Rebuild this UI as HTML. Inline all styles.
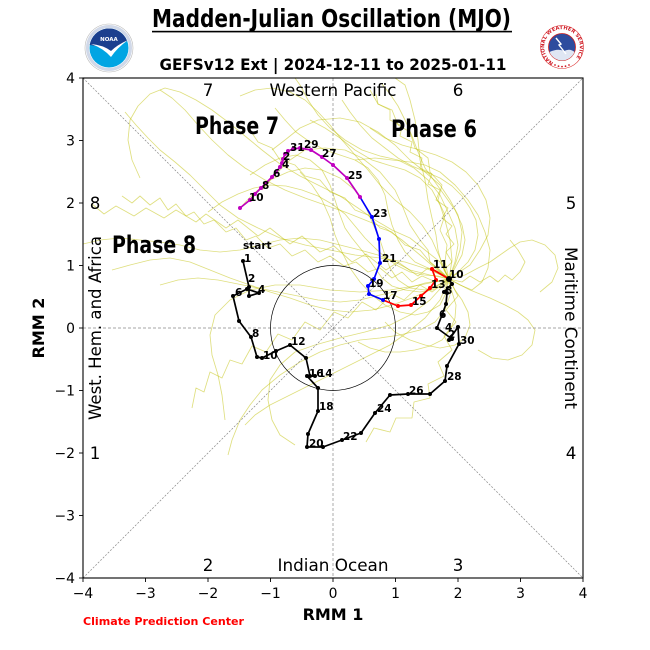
<!DOCTYPE html>
<html><head><meta charset="utf-8"><style>
html,body{margin:0;padding:0;background:#fff;}
svg{display:block;}
text{font-family:"DejaVu Sans","Liberation Sans",sans-serif;}
</style></head><body>
<svg width="650" height="650" viewBox="0 0 650 650" xmlns="http://www.w3.org/2000/svg">
<rect width="650" height="650" fill="#fff"/>

<!-- Title -->
<text x="152" y="27" font-family="Liberation Sans, sans-serif" font-weight="bold" font-size="25" textLength="359" lengthAdjust="spacingAndGlyphs" fill="#000">Madden-Julian Oscillation (MJO)</text>
<rect x="152" y="30.8" width="360" height="1.6" fill="#000"/>
<text x="159.5" y="70" font-weight="bold" font-size="16" textLength="347" lengthAdjust="spacingAndGlyphs" fill="#000">GEFSv12 Ext | 2024-12-11 to 2025-01-11</text>

<!-- NOAA logo -->
<g transform="translate(109,48)">
<circle r="24" fill="#fff" stroke="#b8b8b8" stroke-width="0.6"/>
<circle r="21.5" fill="none" stroke="#d0d8e8" stroke-width="3"/>
<circle r="19.5" fill="#00a5e3"/>
<path d="M-19.3,-3 A19.5,19.5 0 0 1 18.2,-7 Q8,-2 2,4 Q-8,-2 -19.3,-3 Z" fill="#1b3f8e"/>
<path d="M-18,-4 Q-6,0 2,9 Q8,0 19,-8 Q8,-3 2,3 Q-6,-3 -18,-4 Z" fill="#fff"/>
<text x="0" y="-7" text-anchor="middle" font-size="5.5" font-weight="bold" fill="#fff">NOAA</text>
</g>

<!-- NWS logo -->
<g transform="translate(562,47)">
<circle r="21.5" fill="#fff" stroke="#d33" stroke-width="0.6"/>
<defs><path id="nwsarc" d="M-8.5,15.6 A17.8,17.8 0 1 1 8.5,15.6"/></defs>
<text font-size="5" font-weight="bold" fill="#d0202a"><textPath href="#nwsarc" textLength="86" lengthAdjust="spacingAndGlyphs">NATIONAL WEATHER SERVICE</textPath></text>
<circle r="13.5" fill="#2d4c9e" stroke="#c22" stroke-width="0.8"/>
<path d="M-12.5,5 Q-4,1 2,4 Q8,1 12.5,5 A13.5,13.5 0 0 1 -12.5,5 Z" fill="#dfe6f3"/>
<polyline points="-6,-9 -1,-3 -3,-2 4,7" fill="none" stroke="#fff" stroke-width="1.4"/>
<g fill="#d0202a"><circle cx="-7" cy="18" r="0.9"/><circle cx="-3.5" cy="19.2" r="0.9"/><circle cx="0" cy="19.6" r="0.9"/><circle cx="3.5" cy="19.2" r="0.9"/><circle cx="7" cy="18" r="0.9"/></g>
</g>

<!-- Ensemble members -->
<g fill="none" stroke="#bfbf00" stroke-opacity="0.5" stroke-width="0.85" stroke-linejoin="round">
<polyline points="449,279 440,270 430,262 428,250 420,240 410,225 402,205 395,190 380,172 362,158 345,150 325,148 305,150 290,160 275,175 262,190"/>
<polyline points="449,279 455,265 460,250 462,232 458,215 450,200 440,185 425,172 410,160 395,145 378,132 360,122 340,118 318,120 300,128 285,140 272,150"/>
<polyline points="449,279 438,285 425,290 410,288 398,280 390,268 385,255 380,240 372,222 365,205 355,190 340,178 322,170 305,168 288,172 270,180 252,195 240,208"/>
<polyline points="449,279 460,285 472,290 482,282 488,268 490,250 485,232 478,215 468,200 455,185 440,172 425,165 410,162 392,160 375,158 355,160"/>
<polyline points="449,279 445,295 440,305 428,312 415,315 400,312 385,305 372,295 360,282 350,268 342,252 335,235 330,218 322,200 312,185 300,172"/>
<polyline points="449,279 442,265 438,250 436,235 432,218 428,200 425,180 420,160 418,140 415,120 410,100 405,85 395,78"/>
<polyline points="449,279 430,275 410,270 395,262 378,255 360,250 340,245 320,240 300,238 280,240 260,245 240,250 220,252 200,250 180,245 160,242 140,240 120,238 100,240 83,244"/>
<polyline points="449,279 450,295 445,310 435,322 420,330 400,335 380,338 360,340 340,345 320,352 300,362 280,375 262,390 250,405 240,420 232,440 228,455"/>
<polyline points="449,279 465,275 478,268 490,262 500,255 510,248 520,242 532,240 545,245 555,255 558,268 552,282 540,292"/>
<polyline points="449,279 440,258 432,240 422,225 410,212 395,200 380,185 368,170 355,155 342,140 330,125 318,112 305,100 290,92 272,88 255,90 240,96"/>
<polyline points="449,279 455,290 462,300 468,312 470,325 465,338 455,345 440,348 425,345 410,340 395,332 385,322"/>
<polyline points="449,279 425,283 402,290 380,295 360,300 340,302 318,300 298,296 278,292 258,288 238,284 218,280 198,278 178,280 160,285"/>
<polyline points="449,279 435,268 420,255 402,240 385,228 365,220 345,212 325,205 305,198 285,190 265,180 245,168 228,155 212,140 198,125 185,110 172,98 160,90"/>
<polyline points="449,279 452,260 450,240 445,220 440,205 432,190 420,178 405,170 388,165 372,160 355,150 340,138 325,128 310,120"/>
<polyline points="449,279 430,290 412,298 392,305 372,310 350,312 330,310 310,305 290,298 270,292 250,285 230,278 210,270 190,262 170,258 150,260 130,265 112,270"/>
<polyline points="449,279 470,265 480,250 488,235 490,218 486,200 478,185 466,172 452,162 436,155 420,150 402,145 385,138 370,128"/>
<polyline points="449,279 440,272 428,268 415,262 405,252 398,240 392,225 388,210 385,195 378,180 368,168 355,160 340,155 325,150 310,142 296,132 285,120 275,108"/>
<polyline points="449,279 445,285 432,290 420,292 405,290 392,286 382,278 375,268 368,258 360,248 352,238 345,228 340,215 335,200 330,185 322,170 310,160 296,155 280,158 265,165 250,175"/>
<polyline points="449,279 440,300 425,318 408,332 390,345 370,355 350,365 330,375 310,385 290,395 270,405 255,415 245,425"/>
<polyline points="449,279 458,272 468,262 475,250 478,235 476,220 470,208 462,196 452,186 440,178 426,172 412,166 398,158 385,148 372,138 360,125 350,112 342,100"/>
<polyline points="449,279 470,290 490,298 505,305 518,312 528,320 535,330 532,345 522,355 508,360 492,358 478,350"/>
<polyline points="449,279 430,270 405,262 380,258 355,255 330,250 305,245 280,238 258,228 238,218 220,205 205,190 190,175 175,162 160,150 148,138 136,125 125,112"/>
<polyline points="449,279 455,268 462,255 465,240 462,225 455,210 445,196 435,182 425,168 418,152 412,136 405,120 398,106 390,94 382,84"/>
<polyline points="449,279 438,276 424,275 410,272 398,266 386,258 375,248 365,238 355,226 345,214 332,204 318,196 302,190 286,186 270,185 254,188 238,194 222,202 208,212"/>
<polyline points="449,279 452,292 456,305 455,318 450,330 442,340 430,346 415,350 400,352 385,352 370,348 358,342"/>
<polyline points="449,279 445,262 447,245 440,230 445,215 438,200 442,185 430,172 428,158 415,148 410,132 398,125 392,110 378,104 370,90"/>
<polyline points="449,279 430,262 420,250 405,245 392,232 380,228 368,215 355,210 345,198 330,192 320,180 305,176 295,165 280,160 272,148 258,142 250,130"/>
<polyline points="449,279 462,282 470,276 480,282 490,276 498,282 505,275 512,280 520,272 525,262 518,250 510,240"/>
<polyline points="449,279 420,285 390,290 360,292 330,290 300,285 275,285 250,290 230,300 215,315 210,335 212,355 218,375 222,395 225,420"/>
<polyline points="449,279 430,300 410,315 390,325 365,332 340,338 315,345 295,352 280,365 270,380 268,400 272,420 280,435 295,445"/>
<polyline points="449,279 440,262 425,250 410,238 392,230 375,220 358,208 340,196 320,186 300,176 280,164 262,150 245,136 228,122 212,110 196,100 180,92 165,88 150,94 138,106 130,120 128,140 132,160 140,178"/>
<polyline points="449,279 455,262 458,245 455,228 448,212 440,195 428,180 414,168 398,160 380,156 362,150 345,140 330,128 318,115 308,100 300,85 295,78"/>
<polyline points="449,279 436,282 422,276 412,282 402,272 392,278 380,268 368,272 356,262 344,266 330,256 318,262 305,250 292,256 280,244 268,248 256,236 246,240 236,228 226,232 214,220 204,224 194,212 186,216 176,204 168,210 160,198 150,205 140,196 132,203 122,196"/>
<polyline points="449,279 444,270 452,262 446,252 454,244 446,234 452,226 442,218 448,208 436,200 440,190 428,184 432,174 420,168 422,158 410,152 412,142 400,136 402,126 390,120 390,110 378,104 376,94"/>
<polyline points="449,279 432,292 420,285 404,300 392,294 376,310 362,302 348,318 334,312 320,330 305,322 292,340 278,334 266,352 252,346 242,364 230,360 222,378 210,372 204,392 196,388 192,408"/>
<polyline points="449,279 428,268 418,276 398,262 386,270 366,254 352,262 334,246 320,252 302,236 290,244 270,228 258,236 238,220 226,228 206,214 196,222 176,210 164,218 146,208 134,216 116,206 104,214 92,204"/>
<polyline points="449,279 458,296 446,310 456,322 444,336 452,350 438,362 444,376 428,384 430,398 414,402 412,418 396,418 390,432 374,428 366,442"/>
</g>

<!-- reference lines -->
<g fill="none" stroke="#888" stroke-width="0.7">
<line x1="333" y1="78" x2="333" y2="578" stroke-dasharray="3,2"/>
<line x1="83" y1="328" x2="583" y2="328" stroke-dasharray="3,2"/>
<line x1="83" y1="78" x2="583" y2="578" stroke-dasharray="2,1.5"/>
<line x1="83" y1="578" x2="583" y2="78" stroke-dasharray="2,1.5"/>
</g>
<circle cx="333" cy="328" r="62.5" fill="none" stroke="#000" stroke-width="0.7"/>

<!-- observed & forecast mean paths -->
<g fill="none" stroke-width="1.7" stroke-linejoin="round">
<polyline stroke="#000" points="243,261 249,287 249,296 259,293 247,289 233,296 239,321 251,337 257,357 262,358 276,351 290,345 306,358 310,376 315,376 307,376 318,388 318,411 308,434 307,447 323,447 342,440 361,433 375,413 390,395 408,394 430,394 445,381 447,366 459,344 458,327 449,340 452,339 437,328 442,315 446,304 447,293 444,292 452,284 449,279"/>
<polyline stroke="#f00" points="449,279 432,269 436,280 430,288 421,296 411,305 398,306 383,300"/>
<polyline stroke="#00f" points="383,300 369,294 368,286 374,279 380,263 379,239 372,217 360,197"/>
<polyline stroke="#c000c0" points="360,197 347,178 333,165 322,157 311,150 300,148 293,149 288,151 285,154 283,159 282,163 280,167 276,172 272,177 266,183 261,188 255,194 250,200 240,208"/>
</g>
<g fill="#000">
<circle cx="243" cy="261" r="2"/><circle cx="249" cy="287" r="2"/><circle cx="249" cy="296" r="2"/><circle cx="259" cy="293" r="2"/><circle cx="247" cy="289" r="2"/><circle cx="233" cy="296" r="2"/><circle cx="239" cy="321" r="2"/><circle cx="251" cy="337" r="2"/><circle cx="257" cy="357" r="2"/><circle cx="262" cy="358" r="2"/><circle cx="276" cy="351" r="2"/><circle cx="290" cy="345" r="2"/><circle cx="306" cy="358" r="2"/><circle cx="310" cy="376" r="2"/><circle cx="315" cy="376" r="2"/><circle cx="307" cy="376" r="2"/><circle cx="318" cy="388" r="2"/><circle cx="318" cy="411" r="2"/><circle cx="308" cy="434" r="2"/><circle cx="307" cy="447" r="2"/><circle cx="323" cy="447" r="2"/><circle cx="342" cy="440" r="2"/><circle cx="361" cy="433" r="2"/><circle cx="375" cy="413" r="2"/><circle cx="390" cy="395" r="2"/><circle cx="408" cy="394" r="2"/><circle cx="430" cy="394" r="2"/><circle cx="445" cy="381" r="2"/><circle cx="447" cy="366" r="2"/><circle cx="459" cy="344" r="2"/><circle cx="458" cy="327" r="2"/><circle cx="449" cy="340" r="2"/><circle cx="452" cy="339" r="2"/><circle cx="437" cy="328" r="2"/><circle cx="442" cy="315" r="2"/><circle cx="446" cy="304" r="2"/><circle cx="447" cy="293" r="2"/><circle cx="444" cy="292" r="2"/><circle cx="452" cy="284" r="2"/><circle cx="449" cy="279" r="3"/>
</g>
<g fill="#f00">
<circle cx="432" cy="269" r="2"/><circle cx="436" cy="280" r="2"/><circle cx="430" cy="288" r="2"/><circle cx="421" cy="296" r="2"/><circle cx="411" cy="305" r="2"/><circle cx="398" cy="306" r="2"/>
</g>
<g fill="#00f">
<circle cx="383" cy="300" r="2"/><circle cx="369" cy="294" r="2"/><circle cx="368" cy="286" r="2"/><circle cx="374" cy="279" r="2"/><circle cx="380" cy="263" r="2"/><circle cx="379" cy="239" r="2"/><circle cx="372" cy="217" r="2"/>
</g>
<g fill="#c000c0">
<circle cx="360" cy="197" r="2"/><circle cx="347" cy="178" r="2"/><circle cx="333" cy="165" r="2"/><circle cx="322" cy="157" r="2"/><circle cx="311" cy="150" r="2"/><circle cx="300" cy="148" r="2"/><circle cx="293" cy="149" r="2"/><circle cx="288" cy="151" r="2"/><circle cx="285" cy="154" r="2"/><circle cx="283" cy="159" r="2"/><circle cx="282" cy="163" r="2"/><circle cx="280" cy="167" r="2"/><circle cx="276" cy="172" r="2"/><circle cx="272" cy="177" r="2"/><circle cx="266" cy="183" r="2"/><circle cx="261" cy="188" r="2"/><circle cx="255" cy="194" r="2"/><circle cx="250" cy="200" r="2"/><circle cx="240" cy="208" r="2"/>
</g>

<!-- day labels -->
<g font-size="10.5" font-weight="bold" fill="#000">
<text x="243" y="249">start</text>
<text x="244" y="262">1</text><text x="248" y="282">2</text><text x="258" y="293">4</text><text x="235" y="296">6</text>
<text x="252" y="337">8</text><text x="263" y="359">10</text><text x="291" y="345">12</text><text x="309" y="377">16</text><text x="318" y="377">14</text>
<text x="319" y="410">18</text><text x="309" y="447">20</text><text x="343" y="440">22</text><text x="377" y="412">24</text>
<text x="409" y="394">26</text><text x="447" y="380">28</text><text x="460" y="344">30</text><text x="448" y="338">2</text>
<text x="445" y="331">4</text><text x="439" y="318">6</text><text x="445" y="294">8</text><text x="449" y="278">10</text>
<text x="433" y="268">11</text><text x="431" y="288">13</text><text x="412" y="305">15</text><text x="383" y="299">17</text>
<text x="369" y="287">19</text><text x="382" y="262">21</text><text x="373" y="217">23</text>
<text x="348" y="179">25</text><text x="322" y="157">27</text><text x="304" y="148">29</text><text x="290" y="151">31</text>
<text x="283" y="160">2</text><text x="282" y="168">4</text><text x="273" y="177">6</text><text x="262" y="189">8</text><text x="249" y="201">10</text>
</g>

<!-- Phase region labels -->
<g font-size="16.7" fill="#000" text-anchor="middle">
<text x="208" y="96">7</text>
<text x="333" y="96" textLength="127" lengthAdjust="spacingAndGlyphs">Western Pacific</text>
<text x="458" y="96">6</text>
<text x="95" y="209">8</text>
<text x="571" y="209">5</text>
<text x="95" y="459">1</text>
<text x="571" y="459">4</text>
<text x="208" y="571">2</text>
<text x="333" y="571" textLength="111" lengthAdjust="spacingAndGlyphs">Indian Ocean</text>
<text x="458" y="571">3</text>
<text transform="translate(101,328) rotate(-90)" textLength="184" lengthAdjust="spacingAndGlyphs">West. Hem. and Africa</text>
<text transform="translate(565,328) rotate(90)" textLength="162" lengthAdjust="spacingAndGlyphs">Maritime Continent</text>
</g>
<g font-family="Liberation Sans, sans-serif" font-weight="bold" font-size="24" fill="#000">
<text x="195" y="134" textLength="84" lengthAdjust="spacingAndGlyphs">Phase 7</text>
<text x="391" y="137" textLength="86" lengthAdjust="spacingAndGlyphs">Phase 6</text>
<text x="112" y="253" textLength="84" lengthAdjust="spacingAndGlyphs">Phase 8</text>
</g>

<!-- axes frame -->
<rect x="83" y="78" width="500" height="500" fill="none" stroke="#000" stroke-width="1.1"/>
<g stroke="#000" stroke-width="0.9">
<line x1="83" y1="578" x2="83" y2="582"/><line x1="145.5" y1="578" x2="145.5" y2="582"/><line x1="208" y1="578" x2="208" y2="582"/><line x1="270.5" y1="578" x2="270.5" y2="582"/><line x1="333" y1="578" x2="333" y2="582"/><line x1="395.5" y1="578" x2="395.5" y2="582"/><line x1="458" y1="578" x2="458" y2="582"/><line x1="520.5" y1="578" x2="520.5" y2="582"/><line x1="583" y1="578" x2="583" y2="582"/>
<line x1="79" y1="78" x2="83" y2="78"/><line x1="79" y1="140.5" x2="83" y2="140.5"/><line x1="79" y1="203" x2="83" y2="203"/><line x1="79" y1="265.5" x2="83" y2="265.5"/><line x1="79" y1="328" x2="83" y2="328"/><line x1="79" y1="390.5" x2="83" y2="390.5"/><line x1="79" y1="453" x2="83" y2="453"/><line x1="79" y1="515.5" x2="83" y2="515.5"/><line x1="79" y1="578" x2="83" y2="578"/>
</g>
<g font-size="13.9" fill="#000" text-anchor="middle">
<text x="83" y="598">−4</text><text x="145.5" y="598">−3</text><text x="208" y="598">−2</text><text x="270.5" y="598">−1</text><text x="333" y="598">0</text><text x="395.5" y="598">1</text><text x="458" y="598">2</text><text x="520.5" y="598">3</text><text x="583" y="598">4</text>
</g>
<g font-size="13.9" fill="#000" text-anchor="end">
<text x="75" y="83">4</text><text x="75" y="145.5">3</text><text x="75" y="208">2</text><text x="75" y="270.5">1</text><text x="75" y="333">0</text><text x="75" y="395.5">−1</text><text x="75" y="458">−2</text><text x="75" y="520.5">−3</text><text x="75" y="583">−4</text>
</g>
<text x="333" y="620" text-anchor="middle" font-size="16" font-weight="bold" fill="#000">RMM 1</text>
<text transform="translate(44,328) rotate(-90)" text-anchor="middle" font-size="16" font-weight="bold" fill="#000">RMM 2</text>
<text x="83" y="625" font-size="11" font-weight="bold" fill="#f00" textLength="161" lengthAdjust="spacingAndGlyphs">Climate Prediction Center</text>
</svg>
</body></html>
